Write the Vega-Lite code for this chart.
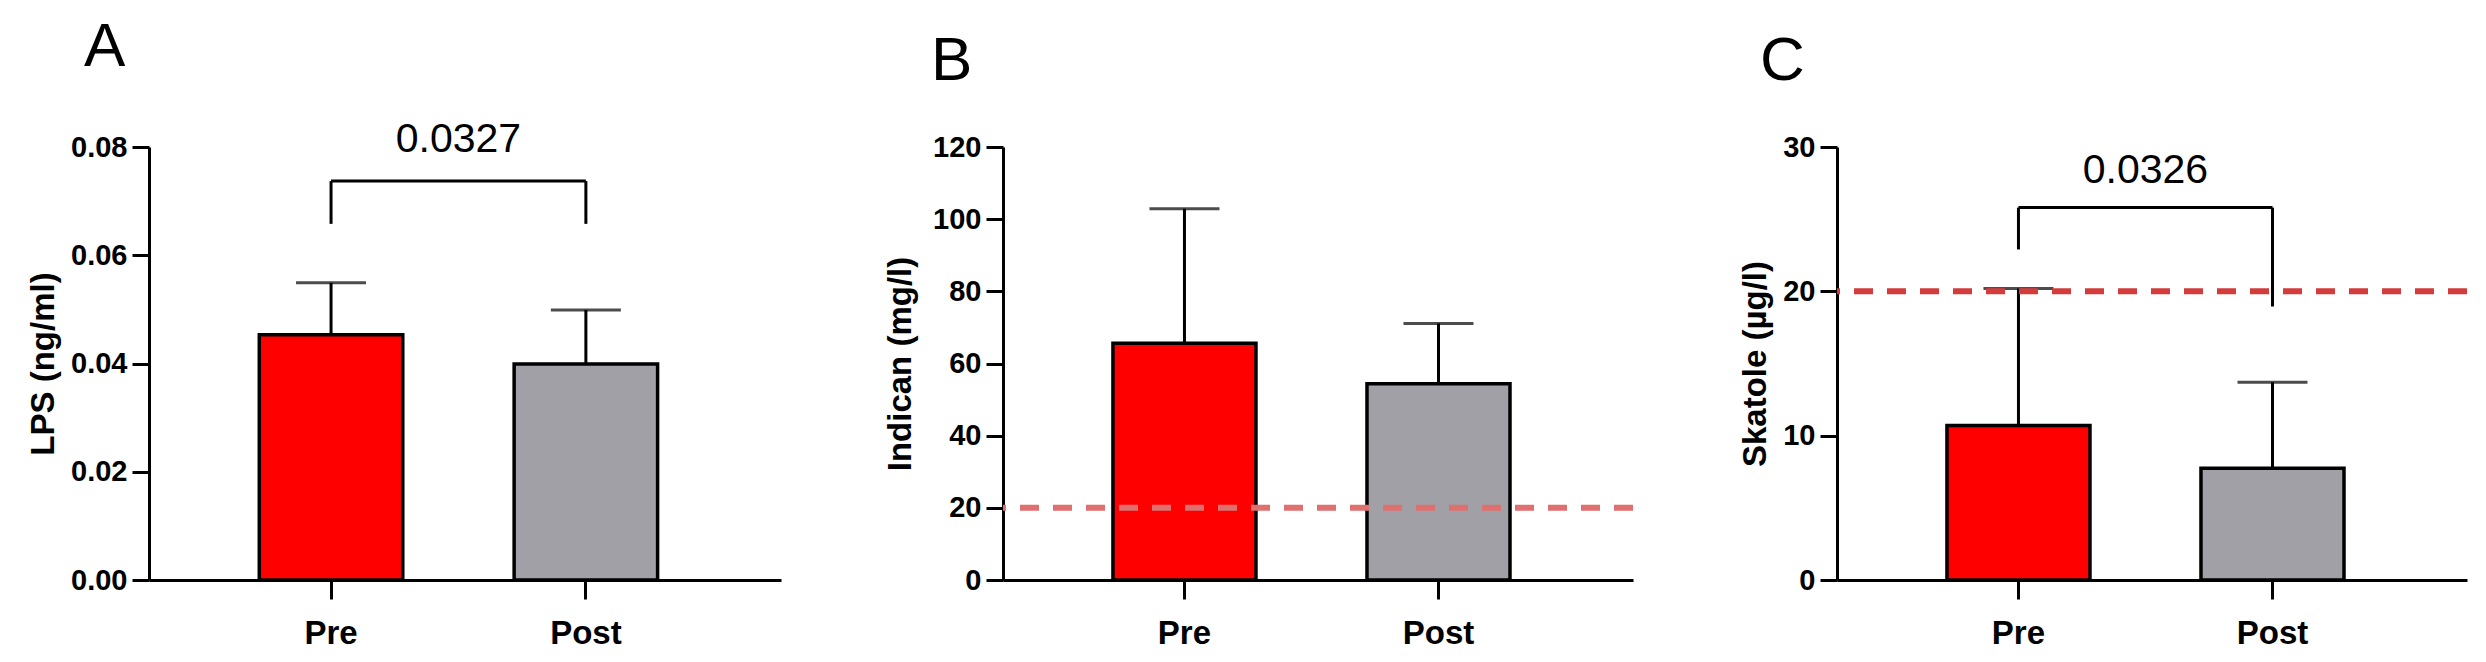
{
  "$schema": "https://vega.github.io/schema/vega-lite/v6.json",
  "padding": {"left": 27, "top": 15, "right": 5, "bottom": 5},
  "background": "white",
  "spacing": 103,
  "datasets": {
    "lps": [
      {"group": "Pre", "mean": 0.0453, "upper": 0.0549},
      {"group": "Post", "mean": 0.0399, "upper": 0.0499}
    ],
    "indican": [
      {"group": "Pre", "mean": 65.6, "upper": 102.9},
      {"group": "Post", "mean": 54.4, "upper": 71.1}
    ],
    "skatole": [
      {"group": "Pre", "mean": 10.7, "upper": 20.2},
      {"group": "Post", "mean": 7.75, "upper": 13.7}
    ],
    "bracketA": [
      {"g": "Pre", "g2": "Post", "y": 0.0737, "y2": 0.0737},
      {"g": "Pre", "g2": "Pre", "y": 0.0737, "y2": 0.0658},
      {"g": "Post", "g2": "Post", "y": 0.0737, "y2": 0.0658}
    ],
    "bracketC": [
      {"g": "Pre", "g2": "Post", "y": 25.8, "y2": 25.8},
      {"g": "Pre", "g2": "Pre", "y": 25.8, "y2": 22.9},
      {"g": "Post", "g2": "Post", "y": 25.8, "y2": 18.95}
    ],
    "pA": [{"g": "Pre", "y": 0.0791, "label": "0.0327"}],
    "pC": [{"g": "Pre", "y": 27.5, "label": "0.0326"}],
    "refB": [{"y": 20}],
    "refC": [{"y": 20}]
  },
  "config": {
    "font": "Liberation Sans",
    "view": {"stroke": null},
    "axis": {
      "grid": false,
      "domainColor": "black",
      "domainWidth": 3,
      "tickColor": "black",
      "tickWidth": 3,
      "labelColor": "black",
      "labelFont": "Liberation Sans",
      "labelFontWeight": "bold",
      "titleColor": "black",
      "titleFont": "Liberation Sans",
      "titleFontWeight": "bold"
    },
    "axisX": {"title": null, "labelAngle": 0, "tickSize": 19, "labelFontSize": 33, "labelPadding": 18},
    "axisY": {"tickSize": 17, "labelFontSize": 29, "labelPadding": 5, "titleFontSize": 33, "titlePadding": 10},
    "title": {"fontSize": 62, "fontWeight": "normal", "font": "Liberation Sans", "anchor": "start", "frame": "group", "color": "black", "offset": 40}
  },
  "hconcat": [
    {
      "width": 632, "height": 433,
      "title": {"text": "A", "dx": -65},
      "layer": [
        {
          "data": {"name": "lps"},
          "mark": {"type": "bar", "stroke": "black", "strokeWidth": 3.5},
          "encoding": {
            "x": {"field": "group", "type": "nominal", "scale": {"type": "band", "domain": ["Pre", "Post"], "paddingInner": 0.437, "paddingOuter": 0.4585, "align": 0.472}, "axis": {"title": null}},
            "y": {"field": "mean", "type": "quantitative", "scale": {"domain": [0, 0.08], "nice": false}, "axis": {"title": "LPS (ng/ml)", "values": [0, 0.02, 0.04, 0.06, 0.08], "format": ".2f"}},
            "color": {"field": "group", "type": "nominal", "scale": {"domain": ["Pre", "Post"], "range": ["#ff0000", "#a0a0a6"]}, "legend": null}
          }
        },
        {
          "data": {"name": "lps"},
          "mark": {"type": "rule", "color": "black", "strokeWidth": 3},
          "encoding": {
            "x": {"field": "group", "type": "nominal"},
            "y": {"field": "mean", "type": "quantitative"},
            "y2": {"field": "upper"}
          }
        },
        {
          "data": {"name": "lps"},
          "mark": {"type": "tick", "color": "black", "size": 70, "thickness": 3},
          "encoding": {
            "x": {"field": "group", "type": "nominal"},
            "y": {"field": "upper", "type": "quantitative"}
          }
        },
        {
          "data": {"name": "bracketA"},
          "mark": {"type": "rule", "color": "black", "strokeWidth": 3},
          "encoding": {
            "x": {"field": "g", "type": "nominal"},
            "x2": {"field": "g2"},
            "y": {"field": "y", "type": "quantitative"},
            "y2": {"field": "y2"}
          }
        },
        {
          "data": {"name": "pA"},
          "mark": {"type": "text", "fontSize": 41, "fontWeight": "normal", "baseline": "alphabetic", "align": "center", "color": "black"},
          "encoding": {
            "x": {"field": "g", "type": "nominal", "bandPosition": 1.388},
            "y": {"field": "y", "type": "quantitative"},
            "text": {"field": "label"}
          }
        }
      ]
    },
    {
      "width": 630, "height": 433,
      "title": {"text": "B", "dx": -72},
      "layer": [
        {
          "data": {"name": "indican"},
          "mark": {"type": "bar", "stroke": "black", "strokeWidth": 3.5},
          "encoding": {
            "x": {"field": "group", "type": "nominal", "scale": {"type": "band", "domain": ["Pre", "Post"], "paddingInner": 0.437, "paddingOuter": 0.4585, "align": 0.472}, "axis": {"title": null}},
            "y": {"field": "mean", "type": "quantitative", "scale": {"domain": [0, 120], "nice": false}, "axis": {"title": "Indican (mg/l)", "titlePadding": 15, "values": [0, 20, 40, 60, 80, 100, 120]}},
            "color": {"field": "group", "type": "nominal", "scale": {"domain": ["Pre", "Post"], "range": ["#ff0000", "#a0a0a6"]}, "legend": null}
          }
        },
        {
          "data": {"name": "indican"},
          "mark": {"type": "rule", "color": "black", "strokeWidth": 3},
          "encoding": {
            "x": {"field": "group", "type": "nominal"},
            "y": {"field": "mean", "type": "quantitative"},
            "y2": {"field": "upper"}
          }
        },
        {
          "data": {"name": "indican"},
          "mark": {"type": "tick", "color": "black", "size": 70, "thickness": 3},
          "encoding": {
            "x": {"field": "group", "type": "nominal"},
            "y": {"field": "upper", "type": "quantitative"}
          }
        },
        {
          "data": {"name": "refB"},
          "mark": {"type": "rule", "color": "#df7070", "strokeWidth": 6, "strokeDash": [19, 14]},
          "encoding": {
            "y": {"field": "y", "type": "quantitative"}
          }
        }
      ]
    },
    {
      "width": 630, "height": 433,
      "title": {"text": "C", "dx": -77},
      "layer": [
        {
          "data": {"name": "skatole"},
          "mark": {"type": "bar", "stroke": "black", "strokeWidth": 3.5},
          "encoding": {
            "x": {"field": "group", "type": "nominal", "scale": {"type": "band", "domain": ["Pre", "Post"], "paddingInner": 0.437, "paddingOuter": 0.4585, "align": 0.472}, "axis": {"title": null}},
            "y": {"field": "mean", "type": "quantitative", "scale": {"domain": [0, 30], "nice": false}, "axis": {"title": "Skatole (µg/l)", "values": [0, 10, 20, 30]}},
            "color": {"field": "group", "type": "nominal", "scale": {"domain": ["Pre", "Post"], "range": ["#ff0000", "#a0a0a6"]}, "legend": null}
          }
        },
        {
          "data": {"name": "skatole"},
          "mark": {"type": "rule", "color": "black", "strokeWidth": 3},
          "encoding": {
            "x": {"field": "group", "type": "nominal"},
            "y": {"field": "mean", "type": "quantitative"},
            "y2": {"field": "upper"}
          }
        },
        {
          "data": {"name": "skatole"},
          "mark": {"type": "tick", "color": "black", "size": 70, "thickness": 3},
          "encoding": {
            "x": {"field": "group", "type": "nominal"},
            "y": {"field": "upper", "type": "quantitative"}
          }
        },
        {
          "data": {"name": "bracketC"},
          "mark": {"type": "rule", "color": "black", "strokeWidth": 3},
          "encoding": {
            "x": {"field": "g", "type": "nominal"},
            "x2": {"field": "g2"},
            "y": {"field": "y", "type": "quantitative"},
            "y2": {"field": "y2"}
          }
        },
        {
          "data": {"name": "refC"},
          "mark": {"type": "rule", "color": "#d43c3c", "strokeWidth": 6, "strokeDash": [19, 14]},
          "encoding": {
            "y": {"field": "y", "type": "quantitative"}
          }
        },
        {
          "data": {"name": "pC"},
          "mark": {"type": "text", "fontSize": 41, "fontWeight": "normal", "baseline": "alphabetic", "align": "center", "color": "black"},
          "encoding": {
            "x": {"field": "g", "type": "nominal", "bandPosition": 1.388},
            "y": {"field": "y", "type": "quantitative"},
            "text": {"field": "label"}
          }
        }
      ]
    }
  ]
}
